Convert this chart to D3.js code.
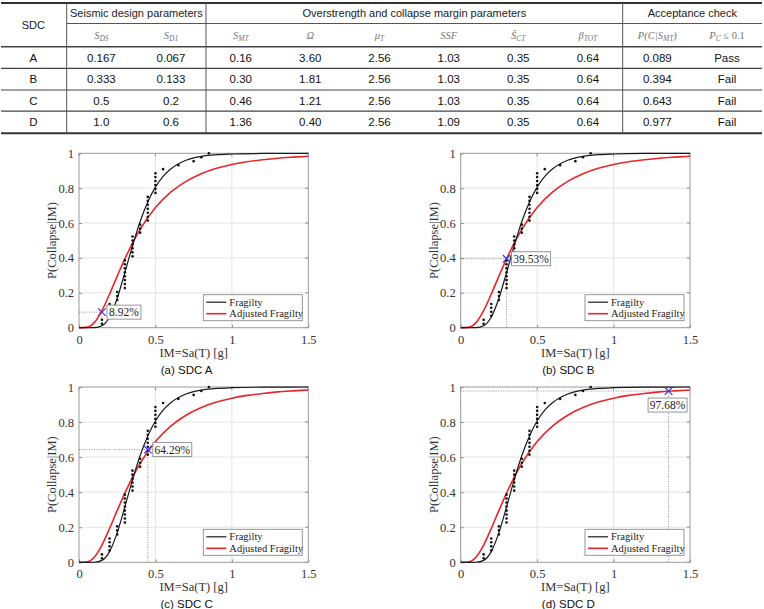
<!DOCTYPE html>
<html>
<head>
<meta charset="utf-8">
<script src="https://cdn.jsdelivr.net/npm/d3@7"></script>
<style>
  body { margin: 0; background: #fff; }
  svg { display: block; }
</style>
</head>
<body>
<div id="chart"></div>
<script>
// table values
var sdc = ["A", "B", "C", "D"];
var sDS = ["0.167", "0.333", "0.5", "1.0"];
var sD1 = ["0.067", "0.133", "0.2", "0.6"];
var sMT = ["0.16", "0.30", "0.46", "1.36"];
var omega = ["3.60", "1.81", "1.21", "0.40"];
var muT = ["2.56", "2.56", "2.56", "2.56"];
var ssf = ["1.03", "1.03", "1.03", "1.09"];
var sCT = ["0.35", "0.35", "0.35", "0.35"];
var betaTOT = ["0.64", "0.64", "0.64", "0.64"];
var pCollapse = ["0.089", "0.394", "0.643", "0.977"];
var check = ["Pass", "Fail", "Fail", "Fail"];

// fragility curves
var fragIM = [0, 0.05, 0.1, 0.15, 0.2, 0.25, 0.3, 0.35, 0.4, 0.45, 0.5, 0.55, 0.6, 0.7, 0.8, 0.9, 1.0, 1.2, 1.5];
var fragP = [0, 0, 0.0004, 0.011, 0.061, 0.169, 0.316, 0.47, 0.609, 0.721, 0.806, 0.868, 0.91, 0.96, 0.982, 0.992, 0.996, 0.999, 1.0];
var adjIM = [0, 0.05, 0.1, 0.15, 0.2, 0.25, 0.3, 0.35, 0.4, 0.5, 0.6, 0.7, 0.8, 0.9, 1.0, 1.1, 1.2, 1.3, 1.4, 1.5];
var adjP = [0, 0.002, 0.029, 0.098, 0.193, 0.296, 0.395, 0.485, 0.564, 0.689, 0.777, 0.839, 0.883, 0.914, 0.936, 0.952, 0.963, 0.972, 0.978, 0.983];

// collapse data points (44 records)
var pointIM = [0.15, 0.15,
  0.2, 0.2, 0.2, 0.2,
  0.25, 0.25, 0.25,
  0.3, 0.3, 0.3, 0.3, 0.3, 0.3, 0.3, 0.3,
  0.35, 0.35, 0.35, 0.35, 0.35, 0.35,
  0.4, 0.4, 0.4,
  0.45, 0.45, 0.45, 0.45, 0.45, 0.45, 0.45,
  0.5, 0.5, 0.5, 0.5, 0.5, 0.5,
  0.55, 0.65, 0.75, 0.8, 0.85];
var pointP = [0.023, 0.045,
  0.068, 0.091, 0.114, 0.136,
  0.159, 0.182, 0.205,
  0.227, 0.25, 0.273, 0.295, 0.318, 0.341, 0.364, 0.386,
  0.409, 0.432, 0.455, 0.477, 0.5, 0.523,
  0.545, 0.568, 0.591,
  0.614, 0.636, 0.659, 0.682, 0.705, 0.727, 0.75,
  0.773, 0.795, 0.818, 0.841, 0.864, 0.886,
  0.909, 0.932, 0.955, 0.977, 1.0];

// per-panel marker
var panelCaption = ["(a) SDC A", "(b) SDC B", "(c) SDC C", "(d) SDC D"];
var markerIM = [0.15, 0.30, 0.45, 1.36];
var markerP = [0.0892, 0.3953, 0.6429, 0.9768];
var markerText = ["8.92%", "39.53%", "64.29%", "97.68%"];

var xTicks = [0, 0.5, 1, 1.5];
var yTicks = [0, 0.2, 0.4, 0.6, 0.8, 1];

var W = 764, H = 609;
var svg = d3.select("#chart").append("svg").attr("width", W).attr("height", H);

var sans = "'Liberation Sans', Arial, sans-serif";
var serif = "'Liberation Serif', 'Times New Roman', serif";

// ---------- table ----------
var colEdges = [0, 66.7, 136, 206, 275.5, 345, 414, 483.5, 553, 622.7, 692, 762];
var rowY = [3, 23.5, 46.7, 68.3, 90, 111.2, 133.3];
var tbl = svg.append("g");

// horizontal rules
tbl.append("line").attr("x1", 1).attr("x2", 762).attr("y1", rowY[0]).attr("y2", rowY[0])
  .attr("stroke", "#333").attr("stroke-width", 2);
tbl.append("line").attr("x1", colEdges[1]).attr("x2", 762).attr("y1", rowY[1]).attr("y2", rowY[1])
  .attr("stroke", "#555").attr("stroke-width", 1);
[2, 3, 4, 5].forEach(function (i) {
  tbl.append("line").attr("x1", 1).attr("x2", 762).attr("y1", rowY[i]).attr("y2", rowY[i])
    .attr("stroke", "#444").attr("stroke-width", i == 2 ? 1.4 : 1.2);
});
tbl.append("line").attr("x1", 1).attr("x2", 762).attr("y1", rowY[6]).attr("y2", rowY[6])
  .attr("stroke", "#333").attr("stroke-width", 2);

// vertical rules at group boundaries
[colEdges[1], colEdges[3], colEdges[9]].forEach(function (x) {
  tbl.append("line").attr("x1", x).attr("x2", x).attr("y1", rowY[0]).attr("y2", rowY[6])
    .attr("stroke", "#555").attr("stroke-width", 1);
});

function colMid(i) { return (colEdges[i] + colEdges[i + 1]) / 2; }

// group headers
var groups = [
  { text: "SDC", x: colMid(0), y: (rowY[0] + rowY[2]) / 2 },
  { text: "Seismic design parameters", x: (colEdges[1] + colEdges[3]) / 2, y: (rowY[0] + rowY[1]) / 2 },
  { text: "Overstrength and collapse margin parameters", x: (colEdges[3] + colEdges[9]) / 2, y: (rowY[0] + rowY[1]) / 2 },
  { text: "Acceptance check", x: (colEdges[9] + colEdges[11]) / 2, y: (rowY[0] + rowY[1]) / 2 }
];
tbl.selectAll("text.grp").data(groups).enter().append("text")
  .attr("x", function (d) { return d.x; })
  .attr("y", function (d) { return d.y; })
  .attr("dy", "0.35em")
  .attr("text-anchor", "middle")
  .style("font-family", sans).style("font-size", "11px").attr("fill", "#222")
  .text(function (d) { return d.text; });

// math sub-headers: [main, subscript, tail]
var subHeads = [
  ["S", "DS", ""], ["S", "D1", ""], ["S", "MT", ""], ["Ω", "", ""], ["μ", "T", ""],
  ["SSF", "", ""], ["Ŝ", "CT", ""], ["β", "TOT", ""], ["P(C|S", "MT", ")"], ["P", "C", " ≤ 0.1"]
];
var hy = (rowY[1] + rowY[2]) / 2;
subHeads.forEach(function (h, i) {
  var t = tbl.append("text")
    .attr("x", colMid(i + 1)).attr("y", hy).attr("dy", "0.35em")
    .attr("text-anchor", "middle")
    .style("font-family", serif).style("font-style", "italic").style("font-size", "10.5px")
    .attr("fill", "#777");
  t.append("tspan").text(h[0]);
  if (h[1]) t.append("tspan").attr("dy", 2.5).style("font-size", "7.5px").text(h[1]);
  if (h[2]) t.append("tspan").attr("dy", -2.5).style("font-style", h[2].indexOf("0.1") >= 0 ? "normal" : "italic").text(h[2]);
});

// body rows
var columns = [sdc, sDS, sD1, sMT, omega, muT, ssf, sCT, betaTOT, pCollapse, check];
sdc.forEach(function (s, r) {
  var cy = (rowY[r + 2] + rowY[r + 3]) / 2;
  columns.forEach(function (col, c) {
    tbl.append("text")
      .attr("x", colMid(c)).attr("y", cy).attr("dy", "0.36em")
      .attr("text-anchor", "middle")
      .style("font-family", sans).style("font-size", "11.5px").attr("fill", "#111")
      .text(col[r]);
  });
});

// ---------- fragility panels ----------
var panelBox = [
  { l: 79, r: 308.3, t: 153.3, b: 327.7 },
  { l: 460.7, r: 690, t: 153.3, b: 327.7 },
  { l: 79, r: 308.3, t: 387, b: 562.3 },
  { l: 460.7, r: 690, t: 387, b: 562.3 }
];

var fragData = fragIM.map(function (x, i) { return [x, fragP[i]]; });
var adjData = adjIM.map(function (x, i) { return [x, adjP[i]]; });
var ptData = pointIM.map(function (x, i) { return [x, pointP[i]]; });

panelBox.forEach(function (box, k) {
  var x = d3.scaleLinear().domain([0, 1.5]).range([box.l, box.r]);
  var y = d3.scaleLinear().domain([0, 1]).range([box.b, box.t]);
  var g = svg.append("g");

  // grid
  g.selectAll("line.gx").data(xTicks.slice(1, -1)).enter().append("line")
    .attr("x1", x).attr("x2", x).attr("y1", box.t).attr("y2", box.b)
    .attr("stroke", "#e4e4e4").attr("stroke-width", 1);
  g.selectAll("line.gy").data(yTicks.slice(1, -1)).enter().append("line")
    .attr("x1", box.l).attr("x2", box.r).attr("y1", y).attr("y2", y)
    .attr("stroke", "#e4e4e4").attr("stroke-width", 1);

  // axes
  var fmt = function (d) { return String(+d.toFixed(1)); };
  var xa = g.append("g").attr("transform", "translate(0," + box.b + ")")
    .call(d3.axisBottom(x).tickValues(xTicks).tickFormat(fmt).tickSize(-3).tickPadding(7));
  var ya = g.append("g").attr("transform", "translate(" + box.l + ",0)")
    .call(d3.axisLeft(y).tickValues(yTicks).tickFormat(fmt).tickSize(-3).tickPadding(5));
  [xa, ya].forEach(function (a) {
    a.select(".domain").remove();
    a.selectAll("line").attr("stroke", "#888");
    a.selectAll("text").style("font-family", serif).style("font-size", "12.5px").attr("fill", "#333");
  });
  // top/right ticks
  g.selectAll("line.tt").data(xTicks).enter().append("line")
    .attr("x1", x).attr("x2", x).attr("y1", box.t).attr("y2", box.t + 3).attr("stroke", "#888");
  g.selectAll("line.tr").data(yTicks).enter().append("line")
    .attr("x1", box.r).attr("x2", box.r - 3).attr("y1", y).attr("y2", y).attr("stroke", "#888");

  g.append("rect").attr("x", box.l).attr("y", box.t)
    .attr("width", box.r - box.l).attr("height", box.b - box.t)
    .attr("fill", "none").attr("stroke", "#9a9a9a").attr("stroke-width", 1);

  // dotted guides to marker
  var mx = x(markerIM[k]), my = y(markerP[k]);
  g.append("line").attr("x1", box.l).attr("x2", mx).attr("y1", my).attr("y2", my)
    .attr("stroke", "#777").attr("stroke-width", 0.8).attr("stroke-dasharray", "1,1.5");
  g.append("line").attr("x1", mx).attr("x2", mx).attr("y1", my).attr("y2", box.b)
    .attr("stroke", "#777").attr("stroke-width", 0.8).attr("stroke-dasharray", "1,1.5");

  var line = d3.line().x(function (d) { return x(d[0]); }).y(function (d) { return y(d[1]); })
    .curve(d3.curveMonotoneX);

  g.append("path").datum(adjData).attr("d", line)
    .attr("fill", "none").attr("stroke", "#e8262b").attr("stroke-width", 1.6);
  g.append("path").datum(fragData).attr("d", line)
    .attr("fill", "none").attr("stroke", "#1a1a1a").attr("stroke-width", 1.2);

  g.selectAll("circle.pt").data(ptData).enter().append("circle")
    .attr("cx", function (d) { return x(d[0]); })
    .attr("cy", function (d) { return y(d[1]); })
    .attr("r", 1.3).attr("fill", "#111");

  // blue X marker
  var s = 3.8;
  g.append("path")
    .attr("d", "M" + (mx - s) + "," + (my - s) + "L" + (mx + s) + "," + (my + s) +
      "M" + (mx - s) + "," + (my + s) + "L" + (mx + s) + "," + (my - s))
    .attr("stroke", "#3a3ae0").attr("stroke-width", 1.2);

  // data tip
  var bw = markerText[k].length > 5 ? 39 : 34, bh = 14;
  var bx, by;
  if (k == 3) { bx = mx - bw / 2 - 1; by = my + 7; }
  else { bx = mx + 5; by = my - bh / 2; }
  g.append("rect").attr("x", bx).attr("y", by).attr("width", bw).attr("height", bh)
    .attr("fill", "#fff").attr("stroke", "#8a8a8a").attr("stroke-width", 0.9);
  g.append("text").attr("x", bx + bw / 2).attr("y", by + bh / 2).attr("dy", "0.35em")
    .attr("text-anchor", "middle")
    .style("font-family", serif).style("font-size", "11.5px").attr("fill", "#222")
    .text(markerText[k]);

  // legend
  var lx = box.r - 105, ly = box.b - 33;
  g.append("rect").attr("x", lx).attr("y", ly).attr("width", 99).attr("height", 26)
    .attr("fill", "#fff").attr("stroke", "#8a8a8a").attr("stroke-width", 0.9);
  var legItems = [["Fragilty", "#1a1a1a", 1.2], ["Adjusted Fragilty", "#e8262b", 1.6]];
  legItems.forEach(function (it, i) {
    var yy = ly + 7.5 + i * 11.5;
    g.append("line").attr("x1", lx + 3).attr("x2", lx + 23).attr("y1", yy).attr("y2", yy)
      .attr("stroke", it[1]).attr("stroke-width", it[2]);
    g.append("text").attr("x", lx + 26).attr("y", yy).attr("dy", "0.35em")
      .style("font-family", serif).style("font-size", "10.5px").attr("fill", "#222")
      .text(it[0]);
  });

  // axis titles
  g.append("text").attr("x", (box.l + box.r) / 2).attr("y", box.b + 29)
    .attr("text-anchor", "middle")
    .style("font-family", serif).style("font-size", "12.5px").attr("fill", "#333")
    .text("IM=Sa(T) [g]");
  g.append("text")
    .attr("transform", "translate(" + (box.l - 23) + "," + ((box.t + box.b) / 2) + ") rotate(-90)")
    .attr("text-anchor", "middle")
    .style("font-family", serif).style("font-size", "12.5px").attr("fill", "#333")
    .text("P(Collapse|IM)");

  // caption
  g.append("text").attr("x", (box.l + box.r) / 2 - 7).attr("y", box.b + 42)
    .attr("dy", "0.35em").attr("text-anchor", "middle")
    .style("font-family", sans).style("font-size", "11.5px").attr("fill", "#111")
    .text(panelCaption[k]);
});
</script>
</body>
</html>
